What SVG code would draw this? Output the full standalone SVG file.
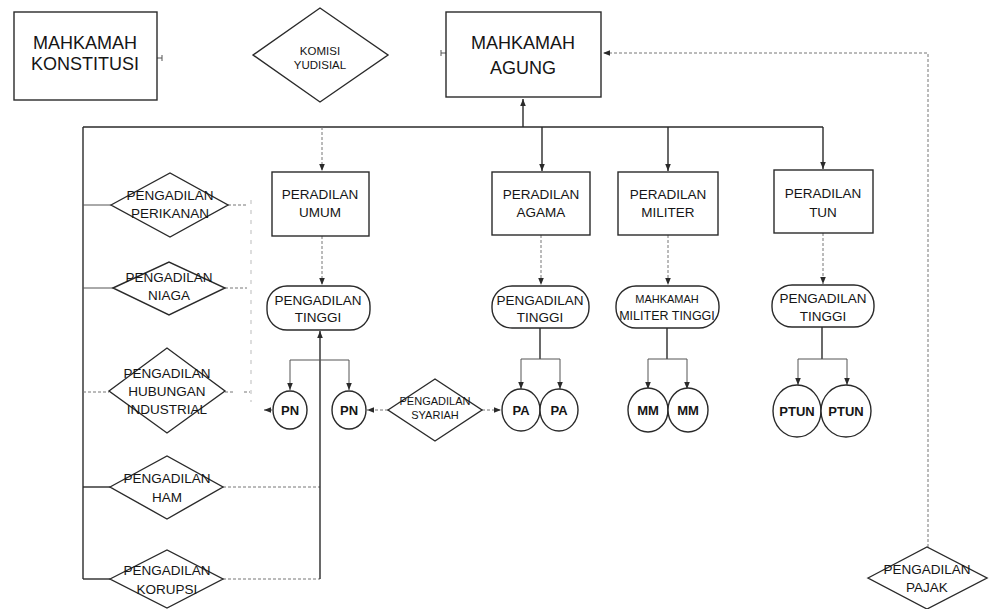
<svg xmlns="http://www.w3.org/2000/svg" width="991" height="609" viewBox="0 0 991 609">
<defs>
<marker id="ah" viewBox="0 0 10 10" refX="10" refY="5" markerWidth="7" markerHeight="7" markerUnits="userSpaceOnUse" orient="auto"><path d="M0,1 L10,5 L0,9 z" fill="#2a2a2a"/></marker>
<style>
text{font-family:"Liberation Sans",Arial,sans-serif;fill:#151515;text-anchor:middle}
.box{fill:#fff;stroke:#2a2a2a;stroke-width:1.4}
.big{font-size:18px}
.mid{font-size:13.5px}
.sm{font-size:11.5px}
.cir{font-size:13px;font-weight:bold}
.solid{fill:none;stroke:#2a2a2a;stroke-width:1.4}
.thin{fill:none;stroke:#555;stroke-width:1}
.dot{fill:none;stroke:#777;stroke-width:1;stroke-dasharray:3 2}
.faint{fill:none;stroke:#bbb;stroke-width:1;stroke-dasharray:4 6}
</style>
</defs>
<rect width="991" height="609" fill="#fff"/>

<g id="connectors">
<path class="solid" d="M523,127 V99" marker-end="url(#ah)"/>
<path class="solid" d="M83,127 H823"/>
<path class="dot" d="M322,127 V171" marker-end="url(#ah)"/>
<path class="solid" d="M542,127 V171" marker-end="url(#ah)"/>
<path class="solid" d="M668,127 V171" marker-end="url(#ah)"/>
<path class="solid" d="M823,127 V169" marker-end="url(#ah)"/>
<path class="solid" d="M83,127 V579"/>
<path class="thin" d="M83,205 H111"/>
<path class="thin" d="M83,288 H113"/>
<path class="dot" d="M83,392 H109"/>
<path class="solid" d="M83,487 H110"/>
<path class="solid" d="M83,579 H110"/>
<path class="dot" d="M228,205 H247"/>
<path class="dot" d="M225,288 H247"/>
<path class="dot" d="M225,392 H235 M244,392 H250"/>
<path class="dot" d="M223,487 H320"/>
<path class="dot" d="M223,579 H320"/>
<path class="faint" d="M251,200 V402"/>
<path class="solid" d="M320,579 V331" marker-end="url(#ah)"/>
<path class="thin" d="M290,360 H349"/>
<path class="thin" d="M290,360 V390" marker-end="url(#ah)"/>
<path class="thin" d="M349,360 V390" marker-end="url(#ah)"/>
<path class="dot" d="M322,236 V285" marker-end="url(#ah)"/>
<path class="dot" d="M541,235 V285" marker-end="url(#ah)"/>
<path class="dot" d="M668,235 V285" marker-end="url(#ah)"/>
<path class="dot" d="M823,233 V284" marker-end="url(#ah)"/>
<path class="solid" d="M540,328 V359"/>
<path class="thin" d="M521,359 H560"/>
<path class="thin" d="M521,359 V389" marker-end="url(#ah)"/>
<path class="thin" d="M560,359 V389" marker-end="url(#ah)"/>
<path class="solid" d="M667,328 V359"/>
<path class="thin" d="M648,359 H687"/>
<path class="thin" d="M648,359 V389" marker-end="url(#ah)"/>
<path class="thin" d="M687,359 V389" marker-end="url(#ah)"/>
<path class="solid" d="M822,327 V359"/>
<path class="thin" d="M798,359 H847"/>
<path class="thin" d="M798,359 V385" marker-end="url(#ah)"/>
<path class="thin" d="M847,359 V385" marker-end="url(#ah)"/>
<path class="dot" d="M388,410 H367" marker-end="url(#ah)"/>
<path class="dot" d="M482,410 H501" marker-end="url(#ah)"/>
<path class="thin" d="M272,410 H264" marker-end="url(#ah)"/>
<path class="dot" d="M928,547 V53 H603" marker-end="url(#ah)"/>
<path class="thin" d="M441,53 H446 M441,50 V56"/>
<path class="thin" d="M157,58 H162 M162,55 V61"/>
</g>

<g id="mahkamah-konstitusi">
<rect class="box" x="14" y="12" width="143" height="88"/>
<text class="big" x="85" y="49">MAHKAMAH</text>
<text class="big" x="85" y="70">KONSTITUSI</text>
</g>

<g id="komisi-yudisial">
<polygon class="box" points="253,55 320,8 388,55 320,102"/>
<text class="sm" x="320" y="55">KOMISI</text>
<text class="sm" x="320" y="69">YUDISIAL</text>
</g>

<g id="mahkamah-agung">
<rect class="box" x="446" y="12" width="155" height="85"/>
<text class="big" x="523" y="49">MAHKAMAH</text>
<text class="big" x="523" y="74">AGUNG</text>
</g>

<g id="peradilan-umum">
<rect class="box" x="272" y="172" width="97" height="64"/>
<text class="mid" x="320" y="199">PERADILAN</text>
<text class="mid" x="320" y="217">UMUM</text>
</g>
<g id="peradilan-agama">
<rect class="box" x="492" y="172" width="98" height="63"/>
<text class="mid" x="541" y="199">PERADILAN</text>
<text class="mid" x="541" y="217">AGAMA</text>
</g>
<g id="peradilan-militer">
<rect class="box" x="618" y="172" width="100" height="63"/>
<text class="mid" x="668" y="199">PERADILAN</text>
<text class="mid" x="668" y="217">MILITER</text>
</g>
<g id="peradilan-tun">
<rect class="box" x="774" y="170" width="99" height="63"/>
<text class="mid" x="823" y="198">PERADILAN</text>
<text class="mid" x="823" y="217">TUN</text>
</g>

<g id="pengadilan-tinggi-umum">
<rect class="box" x="267" y="286" width="103" height="44" rx="20" ry="20"/>
<text class="mid" x="318" y="305">PENGADILAN</text>
<text class="mid" x="318" y="322">TINGGI</text>
</g>
<g id="pengadilan-tinggi-agama">
<rect class="box" x="492" y="286" width="97" height="42" rx="20" ry="20"/>
<text class="mid" x="540" y="305">PENGADILAN</text>
<text class="mid" x="540" y="322">TINGGI</text>
</g>
<g id="mahkamah-militer-tinggi">
<rect class="box" x="616" y="286" width="103" height="42" rx="20" ry="20"/>
<text x="667" y="303" style="font-size:11px">MAHKAMAH</text>
<text x="667" y="320" style="font-size:12.5px">MILITER TINGGI</text>
</g>
<g id="pengadilan-tinggi-tun">
<rect class="box" x="772" y="285" width="102" height="42" rx="20" ry="20"/>
<text class="mid" x="823" y="303">PENGADILAN</text>
<text class="mid" x="823" y="321">TINGGI</text>
</g>

<g id="pengadilan-perikanan">
<polygon class="box" points="111,205 170,173 228,205 170,237"/>
<text class="mid" x="170" y="200">PENGADILAN</text>
<text class="mid" x="170" y="218">PERIKANAN</text>
</g>
<g id="pengadilan-niaga">
<polygon class="box" points="113,288 169,262 225,288 169,315"/>
<text class="mid" x="169" y="282">PENGADILAN</text>
<text class="mid" x="169" y="300">NIAGA</text>
</g>
<g id="pengadilan-hubungan-industrial">
<polygon class="box" points="109,391 167,348 225,391 167,433"/>
<text class="mid" x="167" y="378">PENGADILAN</text>
<text class="mid" x="167" y="396">HUBUNGAN</text>
<text class="mid" x="167" y="414">INDUSTRIAL</text>
</g>
<g id="pengadilan-ham">
<polygon class="box" points="110,487 167,456 223,487 167,519"/>
<text class="mid" x="167" y="483">PENGADILAN</text>
<text class="mid" x="167" y="502">HAM</text>
</g>
<g id="pengadilan-korupsi">
<polygon class="box" points="110,579 167,550 223,579 167,608"/>
<text class="mid" x="167" y="575">PENGADILAN</text>
<text class="mid" x="167" y="594">KORUPSI</text>
</g>
<g id="pengadilan-syariah">
<polygon class="box" points="388,410 435,379 482,410 435,441"/>
<text x="435" y="405" style="font-size:11px">PENGADILAN</text>
<text x="435" y="419" style="font-size:11px">SYARIAH</text>
</g>
<g id="pengadilan-pajak">
<polygon class="box" points="868,578 927,547 987,578 927,609"/>
<text class="mid" x="927" y="574">PENGADILAN</text>
<text class="mid" x="927" y="592">PAJAK</text>
</g>

<g id="pn-1"><ellipse class="box" cx="290" cy="410" rx="17" ry="19"/><text class="cir" x="290" y="415">PN</text></g>
<g id="pn-2"><ellipse class="box" cx="349" cy="410" rx="17" ry="19"/><text class="cir" x="349" y="415">PN</text></g>
<g id="pa-1"><ellipse class="box" cx="521" cy="410" rx="19" ry="21"/><text class="cir" x="521" y="415">PA</text></g>
<g id="pa-2"><ellipse class="box" cx="559" cy="410" rx="19" ry="21"/><text class="cir" x="559" y="415">PA</text></g>
<g id="mm-1"><ellipse class="box" cx="648" cy="410" rx="20" ry="22"/><text class="cir" x="648" y="415">MM</text></g>
<g id="mm-2"><ellipse class="box" cx="688" cy="410" rx="20" ry="22"/><text class="cir" x="688" y="415">MM</text></g>
<g id="ptun-1"><ellipse class="box" cx="797" cy="411" rx="24" ry="26"/><text class="cir" x="797" y="416">PTUN</text></g>
<g id="ptun-2"><ellipse class="box" cx="846" cy="411" rx="25" ry="26"/><text class="cir" x="846" y="416">PTUN</text></g>
</svg>
